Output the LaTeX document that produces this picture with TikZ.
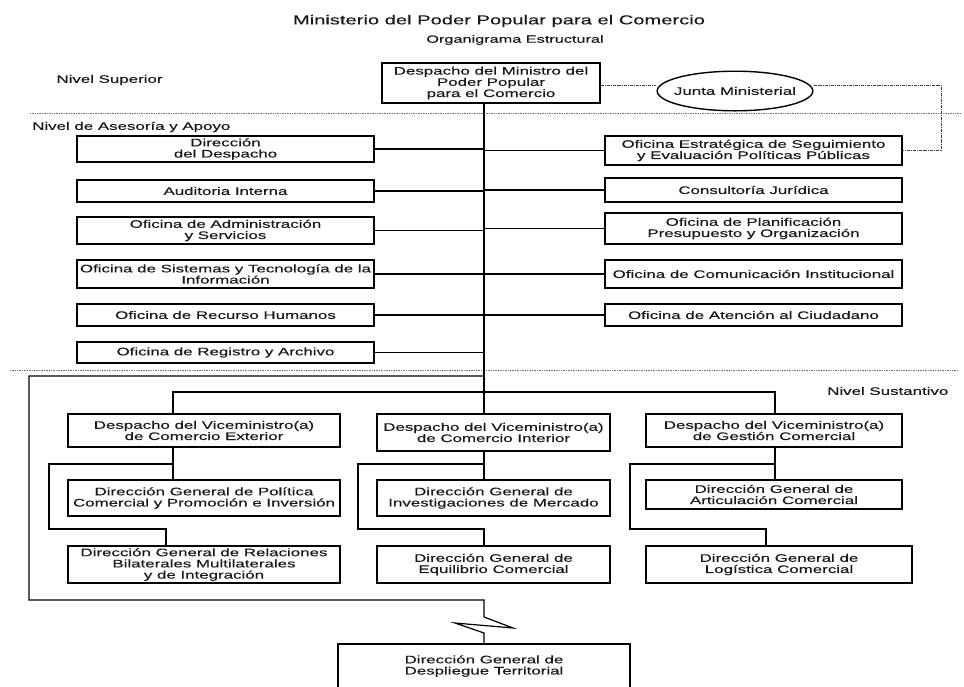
\documentclass[tikz,border=0pt]{standalone}
\usepackage{fontspec}
\setmainfont{Liberation Sans}[FakeStretch=1.55,FakeBold=0.35]
\usetikzlibrary{shapes.geometric}

\tikzset{
  unit/.style={draw, line width=1.5pt, inner sep=0pt, align=center,
    text=black!90, font=\fontsize{10.9}{11.2}\selectfont},
  junta/.style={draw, ellipse, line width=1.4pt, inner xsep=-6pt, inner ysep=10pt,
    text=black!90, font=\fontsize{10.9}{11.2}\selectfont},
  lvl/.style={inner sep=0pt, text=black!90, font=\fontsize{10.9}{11.2}\selectfont},
  link/.style={line width=1.2pt},
  aux/.style={line width=0.9pt, densely dash dot, black!75},
  sep/.style={line width=0.7pt, densely dotted, black!55}
}

\begin{document}
\begin{tikzpicture}[x=1pt, y=-1pt]
    \useasboundingbox (0,0) rectangle (964,686);

    \node[lvl, font=\fontsize{13}{14}\selectfont] (tit) at (499,21) {Ministerio del Poder Popular para el Comercio};
    \node[lvl, font=\fontsize{10.5}{11}\selectfont] (org) at (515,40) {Organigrama Estructural};
    \node[lvl] (nsup) at (109.5,80) {Nivel Superior};
    \node[lvl, anchor=west] (nase) at (32,127) {Nivel de Asesoría y Apoyo};
    \node[lvl, anchor=west] (nsus) at (827,391) {Nivel Sustantivo};

    \draw[sep] (30,113) -- (960,113);
    \draw[sep] (10,370) -- (958,370);

    \node[unit, minimum width=218, minimum height=40] (min) at (491,83) {Despacho del Ministro del\\Poder Popular\\para el Comercio};
    \node[junta, minimum height=32pt] (jun) at (735,91) {Junta Ministerial};

    \node[unit, minimum width=297, minimum height=26] (dd) at (225.5,149) {Dirección\\del Despacho};
    \node[unit, minimum width=297, minimum height=22] (ai) at (225.5,191) {Auditoria Interna};
    \node[unit, minimum width=297, minimum height=27] (oa) at (225.5,230.5) {Oficina de Administración\\y Servicios};
    \node[unit, minimum width=297, minimum height=28] (os) at (225.5,274) {Oficina de Sistemas y Tecnología de la\\Información};
    \node[unit, minimum width=297, minimum height=22] (rh) at (225.5,315) {Oficina de Recurso Humanos};
    \node[unit, minimum width=297, minimum height=21] (ra) at (225.5,352.5) {Oficina de Registro y Archivo};

    \node[unit, minimum width=297, minimum height=29] (oe) at (753.5,150.5) {Oficina Estratégica de Seguimiento\\y Evaluación Políticas Públicas};
    \node[unit, minimum width=297, minimum height=24] (cj) at (753.5,190) {Consultoría Jurídica};
    \node[unit, minimum width=297, minimum height=31] (op) at (753.5,228.5) {Oficina de Planificación\\Presupuesto y Organización};
    \node[unit, minimum width=297, minimum height=28] (oc) at (753.5,274) {Oficina de Comunicación Institucional};
    \node[unit, minimum width=297, minimum height=22] (ac) at (753.5,315) {Oficina de Atención al Ciudadano};

    \node[unit, minimum width=272, minimum height=33] (vmext) at (204,430.5) {Despacho del Viceministro(a)\\de Comercio Exterior};
    \node[unit, minimum width=233, minimum height=37] (vmint) at (493.5,432.5) {Despacho del Viceministro(a)\\de Comercio Interior};
    \node[unit, minimum width=256, minimum height=33] (vmges) at (774,430.5) {Despacho del Viceministro(a)\\de Gestión Comercial};

    \node[unit, minimum width=272, minimum height=36] (dgpol) at (204,498) {Dirección General de Política\\Comercial y Promoción e Inversión};
    \node[unit, minimum width=272, minimum height=37] (dgrel) at (204,564.5) {Dirección General de Relaciones\\Bilaterales Multilaterales\\y de Integración};
    \node[unit, minimum width=233, minimum height=36] (dginv) at (493.5,498) {Dirección General de\\Investigaciones de Mercado};
    \node[unit, minimum width=233, minimum height=37] (dgequ) at (493.5,564.5) {Dirección General de\\Equilibrio Comercial};
    \node[unit, minimum width=256, minimum height=29] (dgart) at (774,494.5) {Dirección General de\\Articulación Comercial};
    \node[unit, minimum width=266, minimum height=37] (dglog) at (779,564.5) {Dirección General de\\Logística Comercial};
    \node[unit, minimum width=292, minimum height=44] (dgdes) at (484,666) {Dirección General de\\Despliegue Territorial};

    \coordinate (tk) at (484,0);
    \coordinate (jr) at (941,0);
    \coordinate (jl) at (0,85);

    \draw[aux] (min.east |- jl) -- (jun.west |- jl);
    \draw[aux] (jun.east |- jl) -- (jl -| jr) -- (oe.east -| jr) -- (oe.east);

    \draw[link] (min.south -| tk) -- (vmint.north -| tk);
    \draw[link] (dd.east) -- (dd.east -| tk);
    \draw[link] (ai.east) -- (ai.east -| tk);
    \draw[link] (oa.east) -- (oa.east -| tk);
    \draw[link] (os.east) -- (os.east -| tk);
    \draw[link] (rh.east) -- (rh.east -| tk);
    \draw[link] (ra.east) -- (ra.east -| tk);
    \draw[link] (oe.west) -- (oe.west -| tk);
    \draw[link] (cj.west) -- (cj.west -| tk);
    \draw[link] (op.west) -- (op.west -| tk);
    \draw[link] (oc.west) -- (oc.west -| tk);
    \draw[link] (ac.west) -- (ac.west -| tk);

    \coordinate (lpa) at (484,376);
    \coordinate (lpb) at (29,600);
    \coordinate (lpc) at (484,600);
    \coordinate (zz1) at (484,617);
    \coordinate (zz2) at (513,628);
    \coordinate (zz3) at (455,623);
    \coordinate (zz4) at (484,633);
    \draw[link] (lpa) -| (lpb) -- (lpc) -- (zz1) -- (zz2) -- (zz3) -- (zz4) -- (dgdes.north -| tk);

    \coordinate (ex) at (173,392);
    \coordinate (gs) at (775,392);
    \draw[link] (vmext.north -| ex) -- (ex) -- (gs) -- (vmges.north -| gs);

    \coordinate (exa) at (173,464);
    \coordinate (exb) at (49,529);
    \coordinate (exc) at (166,529);
    \draw[link] (vmext.south -| ex) -- (dgpol.north -| ex);
    \draw[link] (exa) -| (exb) -- (exc) -- (dgrel.north -| exc);

    \coordinate (ina) at (484,464);
    \coordinate (inb) at (358,529);
    \coordinate (inc) at (484,529);
    \draw[link] (vmint.south -| tk) -- (dginv.north -| tk);
    \draw[link] (ina) -| (inb) -- (inc) -- (dgequ.north -| inc);

    \coordinate (gsa) at (775,464);
    \coordinate (gsb) at (630,529);
    \coordinate (gsc) at (766,529);
    \draw[link] (vmges.south -| gs) -- (dgart.north -| gs);
    \draw[link] (gsa) -| (gsb) -- (gsc) -- (dglog.north -| gsc);
\end{tikzpicture}
\end{document}
